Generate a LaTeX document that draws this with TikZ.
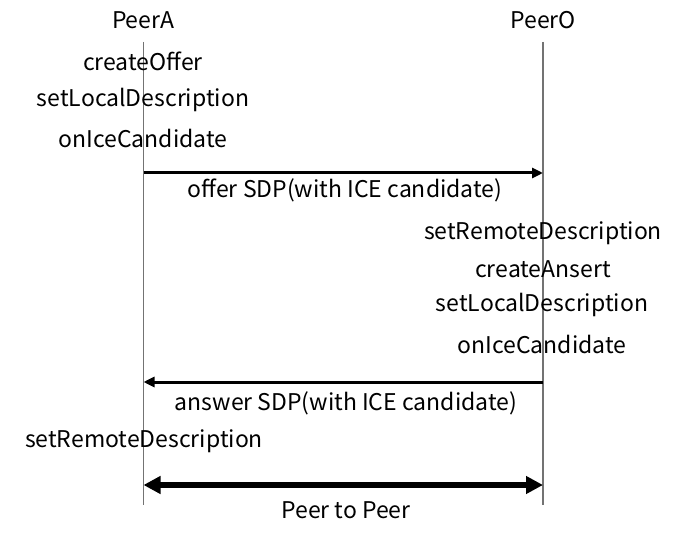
\documentclass[tikz,border=0pt]{standalone}
\usepackage{fontspec}
\setmainfont{Noto Sans CJK JP}
\usetikzlibrary{arrows.meta}
\begin{document}
\begin{tikzpicture}[x=1pt,y=-1pt,
  lbl/.style={font=\fontsize{23}{26}\selectfont, inner sep=0pt, text=black},
  life/.style={draw=black!55, line width=1.2pt},
  msg/.style={line width=3pt, -{Triangle[length=11pt,width=10pt]}},
  p2p/.style={line width=5.5pt, {Triangle[length=17pt,width=17pt]}-{Triangle[length=17pt,width=17pt]}}]
\useasboundingbox (0,0) rectangle (686,540);
\node[lbl] (pa) at (143,20) {PeerA};
\node[lbl] (po) at (543,20) {PeerO};
\coordinate (aTop) at (143.5,42);
\coordinate (aBot) at (143.5,505);
\coordinate (oTop) at (543,42);
\coordinate (oBot) at (543,505);
\draw[life] (aTop) -- (aBot);
\draw[life] (oTop) -- (oBot);
\node[lbl] (a1) at (143,61) {createOffer};
\node[lbl] (a2) at (143,100) {setLocalDescription};
\node[lbl] (a3) at (143,138) {onIceCandidate};
\coordinate (m1s) at (143.5,173);
\coordinate (m1e) at (543,173);
\draw[msg] (m1s) -- (m1e);
\node[lbl] (m1) at (345,190) {offer SDP(with ICE candidate)};
\node[lbl] (o1) at (543,233) {setRemoteDescription};
\node[lbl] (o2) at (543,269) {createAnsert};
\node[lbl] (o3) at (542,305) {setLocalDescription};
\node[lbl] (o4) at (542,344) {onIceCandidate};
\coordinate (m2s) at (543,382);
\coordinate (m2e) at (143.5,382);
\draw[msg] (m2s) -- (m2e);
\node[lbl] (m2) at (346,403) {answer SDP(with ICE candidate)};
\node[lbl] (a4) at (144,441) {setRemoteDescription};
\coordinate (p1) at (143.5,485);
\coordinate (p2) at (543,485);
\draw[p2p] (p1) -- (p2);
\node[lbl] (pp) at (346,510) {Peer to Peer};
\end{tikzpicture}
\end{document}
